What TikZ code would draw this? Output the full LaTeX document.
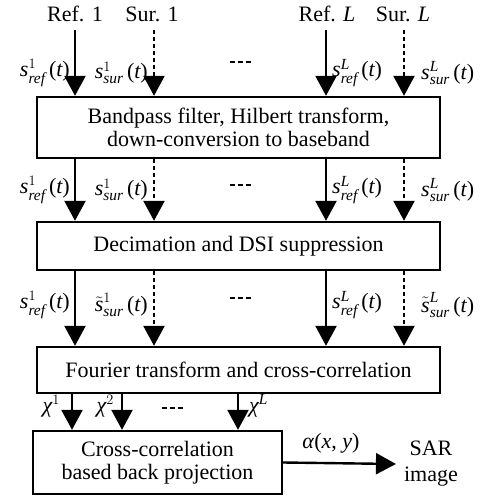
\documentclass[tikz,border=0pt]{standalone}
\usepackage{amsmath}
\usepackage{fontspec}
\setmainfont{Liberation Serif}
\newfontfamily\tnr{Liberation Serif}
\usetikzlibrary{arrows.meta}
\newcommand{\sgl}[3]{$#1^{#2}_{\textit{#3}}\,\textup{(}\textit{t}\textup{)}$}
\begin{document}
\begin{tikzpicture}[x=1pt,y=-1pt,
  font=\tnr\fontsize{22}{25}\selectfont,
  blk/.style={draw,line width=2.4pt,inner sep=0pt},
  arr/.style={line width=2.4pt,-{Triangle[length=20pt,width=21pt]}},
  darr/.style={arr,dash pattern=on 4pt off 3pt},
  ell/.style={line width=2.4pt,dash pattern=on 4.5pt off 3.5pt},
  lab/.style={inner sep=0pt}]
\useasboundingbox (0,0) rectangle (490,497);
% inputs
\node[lab] (r1) at (75,14) {Ref. 1};
\node[lab] (s1) at (152,14) {Sur. 1};
\node[lab] (rL) at (327,14) {Ref. \textit{L}};
\node[lab] (sL) at (403,14) {Sur. \textit{L}};
\coordinate (r1t) at (75,30);
\coordinate (s1t) at (154,30);
\coordinate (rLt) at (326,30);
\coordinate (sLt) at (404,30);
% boxes
\node[blk,minimum width=403pt,minimum height=61pt,align=center] (b1) at (238.5,127.5)
  {Bandpass filter, Hilbert transform,\\[-2pt]down-conversion to baseband};
\node[blk,minimum width=403pt,minimum height=48pt] (b2) at (238.5,246) {Decimation and DSI suppression};
\node[blk,minimum width=403pt,minimum height=46pt] (b3) at (238.5,370) {Fourier transform and cross-correlation};
\node[blk,minimum width=249pt,minimum height=63pt,align=center] (b4) at (157.5,462.5)
  {Cross-correlation\\[-2pt]based back projection};
% row 1
\draw[arr] (r1t) -- (r1t |- b1.north);
\draw[darr] (s1t) -- (s1t |- b1.north);
\draw[arr] (rLt) -- (rLt |- b1.north);
\draw[darr] (sLt) -- (sLt |- b1.north);
\node[lab,anchor=east] (l11) at (70,73) {\sgl{\textit{s}}{1}{ref}};
\node[lab,anchor=east] (l12) at (148,73) {\sgl{\textit{s}}{1}{sur}};
\node[lab,anchor=west] (l13) at (332,73) {\sgl{\textit{s}}{\textit{L}}{ref}};
\node[lab,anchor=west] (l14) at (421,73) {\sgl{\textit{s}}{\textit{L}}{sur}};
\coordinate (d1a) at (230,62); \coordinate (d1b) at (252,62);
\draw[ell] (d1a) -- (d1b);
% row 2
\draw[arr] (r1t |- b1.south) -- (r1t |- b2.north);
\draw[darr] (s1t |- b1.south) -- (s1t |- b2.north);
\draw[arr] (rLt |- b1.south) -- (rLt |- b2.north);
\draw[darr] (sLt |- b1.south) -- (sLt |- b2.north);
\node[lab,anchor=east] (l21) at (70,190) {\sgl{\textit{s}}{1}{ref}};
\node[lab,anchor=east] (l22) at (148,190) {\sgl{\textit{s}}{1}{sur}};
\node[lab,anchor=west] (l23) at (332,190) {\sgl{\textit{s}}{\textit{L}}{ref}};
\node[lab,anchor=west] (l24) at (421,190) {\sgl{\textit{s}}{\textit{L}}{sur}};
\coordinate (d2a) at (230,185); \coordinate (d2b) at (252,185);
\draw[ell] (d2a) -- (d2b);
% row 3
\draw[arr] (r1t |- b2.south) -- (r1t |- b3.north);
\draw[darr] (s1t |- b2.south) -- (s1t |- b3.north);
\draw[arr] (rLt |- b2.south) -- (rLt |- b3.north);
\draw[darr] (sLt |- b2.south) -- (sLt |- b3.north);
\node[lab,anchor=east] (l31) at (70,305) {\sgl{\textit{s}}{1}{ref}};
\node[lab,anchor=east] (l32) at (148,305) {\sgl{\tilde{\textit{s}}}{1}{sur}};
\node[lab,anchor=west] (l33) at (332,305) {\sgl{\textit{s}}{\textit{L}}{ref}};
\node[lab,anchor=west] (l34) at (421,305) {\sgl{\tilde{\textit{s}}}{\textit{L}}{sur}};
\coordinate (d3a) at (230,298); \coordinate (d3b) at (252,298);
\draw[ell] (d3a) -- (d3b);
% row 4
\coordinate (c1) at (72,0); \coordinate (c2) at (122,0); \coordinate (cL) at (238,0);
\draw[arr] (c1 |- b3.south) -- (c1 |- b4.north);
\draw[arr] (c2 |- b3.south) -- (c2 |- b4.north);
\draw[arr] (cL |- b3.south) -- (cL |- b4.north);
\node[lab,anchor=east] (x1) at (60,406) {$\textit{χ}^{1}$};
\node[lab,anchor=east] (x2) at (114,406) {$\textit{χ}^{2}$};
\node[lab,anchor=west] (xL) at (249,406) {$\textit{χ}^{\textit{L}}$};
\coordinate (d4a) at (162,408); \coordinate (d4b) at (183,408);
\draw[ell] (d4a) -- (d4b);
% output
\node[lab,align=center,inner xsep=8pt] (sar) at (431,464) {SAR\\[1pt]image};
\draw[arr] (b4.east) -- (sar.west);
\node[lab] (al) at (331,443) {\textit{α}(\textit{x}, \textit{y})};
\end{tikzpicture}
\end{document}
